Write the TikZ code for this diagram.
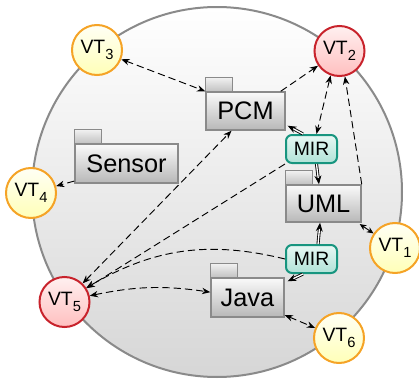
\documentclass[tikz,border=0pt]{standalone}
\usepackage{fontspec}
\setmainfont{Liberation Sans}
\usetikzlibrary{arrows.meta}

\definecolor{rimgray}{HTML}{8A8A8A}
\definecolor{vtorange}{HTML}{F5A326}
\definecolor{vtcrimson}{HTML}{C8232C}
\definecolor{mirteal}{HTML}{17957F}
\definecolor{mirtop}{HTML}{E8F8F4}
\definecolor{mirbottom}{HTML}{B0E2D7}

% view type label: VT with a lowered index
\newcommand\vtlabel[1]{VT\raisebox{-0.3em}{\fontsize{11}{12}\selectfont #1}}

\begin{document}
\begin{tikzpicture}[x=0.75pt,y=-0.75pt,
  >={Stealth[length=6.2pt,width=4.8pt]},
  vtbase/.style={circle, minimum size=37.5pt, inner sep=0pt, line width=1.5pt,
    font=\fontsize{14.5}{16}\selectfont},
  vtpale/.style={vtbase, draw=vtorange, top color=yellow!4!white, bottom color=yellow!28!white},
  vthot/.style={vtbase, draw=vtcrimson, top color=red!6!white, bottom color=red!25!white},
  folderbody/.style={rectangle, draw=rimgray, line width=1.1pt, inner sep=0pt,
    top color=black!2, bottom color=black!28, font=\fontsize{19}{22}\selectfont},
  foldertab/.style={draw=rimgray, line width=1.1pt, top color=black!5, bottom color=black!24},
  mirbox/.style={rectangle, rounded corners=4.5pt, draw=mirteal, line width=1.5pt,
    top color=mirtop, bottom color=mirbottom, minimum width=38.25pt, minimum height=21pt,
    inner sep=0pt, font=\fontsize{14.5}{17}\selectfont},
  link/.style={line width=0.7pt, dash pattern=on 5.5pt off 3pt},
  shortlink/.style={line width=0.7pt, {Stealth[length=5pt,width=4.4pt]}-{Stealth[length=5pt,width=4.4pt]}},
  mirflow/.style={double, double distance=1pt, line width=0.65pt,
    -{Stealth[length=6.5pt,width=5.2pt]}}
]
\useasboundingbox (0,0) rectangle (419,379);

% the enclosing sphere
\shade[top color=white, bottom color=black!16, draw=rimgray, line width=1.5pt]
  (217,192) circle[radius=185];

% folders
\node[folderbody, minimum width=59.25pt, minimum height=28.5pt]  (PCM)    at (245.5,111)   {PCM};
\node[folderbody, minimum width=77.25pt, minimum height=29.25pt] (Sensor) at (126.5,163.5) {Sensor};
\node[folderbody, minimum width=56.25pt, minimum height=27.75pt] (UML)    at (323.5,203.5) {UML};
\node[folderbody, minimum width=54.75pt, minimum height=29.25pt] (Java)   at (247.5,297.5) {Java};
\foreach \f in {PCM,Sensor,UML,Java}
  \shade[foldertab] (\f.north west) rectangle ++(27,-14);

% model transformations
\node[mirbox] (MIR1) at (311.5,149) {MIR};
\node[mirbox] (MIR2) at (311.5,259) {MIR};

% view types
\node[vtpale] (VT1) at (395,248) {\vtlabel{1}};
\node[vthot]  (VT2) at (339.5,51) {\vtlabel{2}};
\node[vtpale] (VT3) at (97,50)    {\vtlabel{3}};
\node[vtpale] (VT4) at (31,193)   {\vtlabel{4}};
\node[vthot]  (VT5) at (64.5,302) {\vtlabel{5}};
\node[vtpale] (VT6) at (339,338)  {\vtlabel{6}};

% dependencies
\draw[link,<->] (VT3) -- (PCM.north west);
\draw[link,->] ([xshift=-3.75pt]PCM.north east) -- (VT2);
\draw[link,<->] (VT2.250) -- ([xshift=3.75pt]MIR1.north);
\draw[link,->] (UML.north east) -- (VT2.282);
\draw[link,->] ([yshift=2pt]Sensor.south west) -- (VT4);
\draw[shortlink] ([xshift=-1.5pt,yshift=-1pt]UML.south east) -- (VT1);
\draw[link,<->] ([yshift=2pt]Java.south east) -- (VT6);
\draw[link,<->] (VT5) -- ([xshift=-10.5pt]PCM.south);
\draw[link,->] (MIR1.south west) -- (VT5);
\draw[link,->] (MIR2.west) to[bend right=22] (VT5);
\draw[link,<->] (VT5) to[bend left=10] ([yshift=4pt]Java.west);

% transformation flows
\draw[mirflow] ([xshift=-6.4pt]MIR1.north) -- ([xshift=1.5pt,yshift=3.75pt]PCM.south east);
\draw[mirflow] ([xshift=3.75pt]MIR1.south) -- ([xshift=-3.4pt]UML.north);
\draw[mirflow] ([xshift=4.9pt]MIR2.north) -- ([xshift=-2.6pt]UML.south);
\draw[mirflow] ([xshift=-6.4pt]MIR2.south) -- ([xshift=2.25pt,yshift=-3pt]Java.north east);
\end{tikzpicture}
\end{document}
